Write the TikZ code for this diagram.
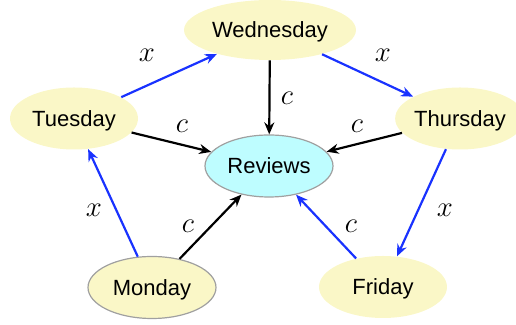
\documentclass[tikz,border=0pt]{standalone}
\usepackage{fontspec}
\setsansfont{Liberation Sans}
\usetikzlibrary{arrows.meta,shapes.geometric}
\definecolor{dayfill}{RGB}{250,247,199}
\definecolor{revfill}{RGB}{190,253,255}
\definecolor{rimgray}{RGB}{160,160,160}
\definecolor{xblue}{RGB}{25,50,255}
\tikzset{
  day/.style={ellipse, fill=dayfill, inner sep=0pt,
    minimum width=64pt, minimum height=31pt, text depth=0pt,
    font=\sffamily\fontsize{11}{13}\selectfont},
  rimmed/.style={draw=rimgray, line width=0.6pt},
  carrow/.style={line width=1.1pt, -{Stealth[length=6pt,width=5pt]}},
  xarrow/.style={carrow, xblue},
  lbl/.style={font=\Large, text=black, inner sep=0pt}
}
\begin{document}
\begin{tikzpicture}[x=0.5pt, y=-0.5pt]
		%%%%% FRAME %%%%%
		\useasboundingbox (0, 0) rectangle (516, 325);
		
		%%%%% DAYS %%%%%
		\node[day, minimum width=86pt, minimum height=30pt] (wed) at (270, 30) {Wednesday};
		\node[day] (tue) at (74, 118.5) {Tuesday};
		\node[day] (thu) at (460, 118.5) {Thursday};
		\node[day, rimmed] (mon) at (152, 287.5) {Monday};
		\node[day] (fri) at (383, 287) {Friday};
		\node[day, rimmed, fill=revfill] (rev) at (269, 166) {Reviews};
		
		%%%%% CYCLE %%%%%
		\draw[xarrow] (tue) -- (wed) node[lbl] at (147, 55) {$x$};
		\draw[xarrow] (wed) -- (thu) node[lbl] at (383, 55) {$x$};
		\draw[xarrow] (thu) -- (fri) node[lbl] at (445, 210) {$x$};
		\draw[xarrow] (mon) -- (tue) node[lbl] at (94, 210) {$x$};
		
		%%%%% INTO REVIEWS %%%%%
		\draw[carrow] (wed) -- (rev) node[lbl] at (287, 98) {$c$};
		\draw[carrow] (tue) -- (rev) node[lbl] at (182, 126) {$c$};
		\draw[carrow] (thu) -- (rev) node[lbl] at (357, 126) {$c$};
		\draw[carrow] (mon) -- (rev) node[lbl] at (188, 226) {$c$};
		\draw[xarrow] (fri) -- (rev) node[lbl] at (351, 226) {$c$};
	\end{tikzpicture}
\end{document}
